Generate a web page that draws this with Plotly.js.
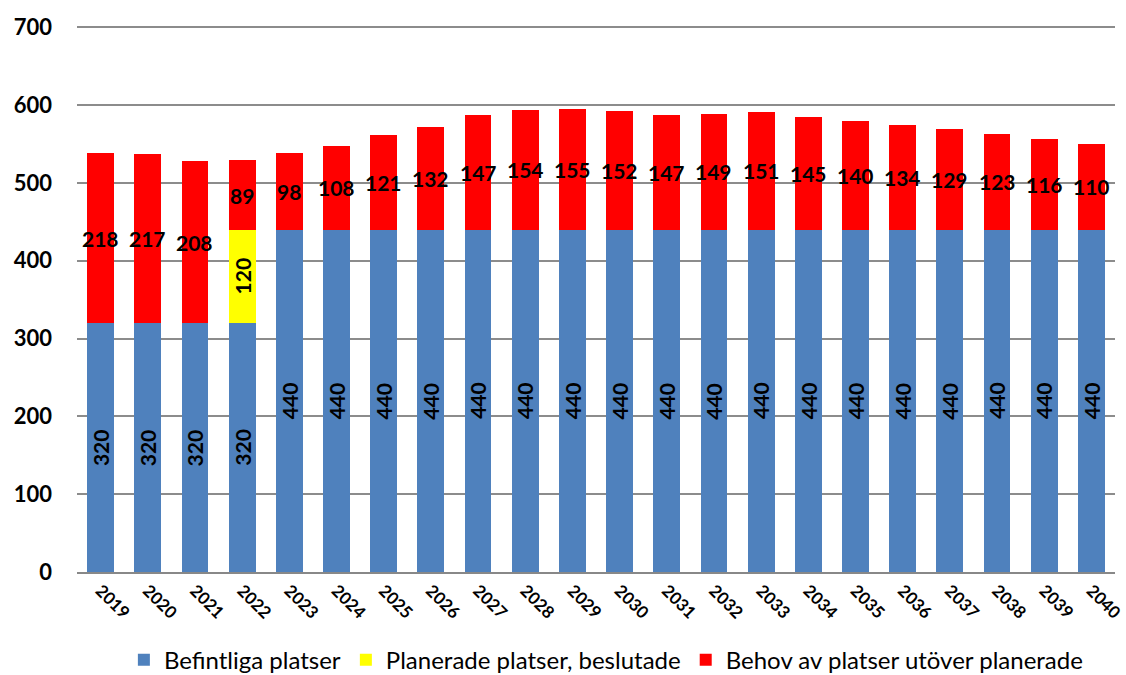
<!DOCTYPE html>
<html><head><meta charset="utf-8">
<script src="https://cdn.plot.ly/plotly-3.0.1.min.js"></script>
<style>html,body{margin:0;padding:0;background:#fff}#chart{width:1126px;height:675px}</style>
</head><body><div id="chart"></div>
<script>
const years = ['2019','2020','2021','2022','2023','2024','2025','2026','2027','2028','2029','2030','2031','2032','2033','2034','2035','2036','2037','2038','2039','2040'];
const befintliga = [320,320,320,320,440,440,440,440,440,440,440,440,440,440,440,440,440,440,440,440,440,440];
const planerade = [0,0,0,120,0,0,0,0,0,0,0,0,0,0,0,0,0,0,0,0,0,0];
const behov = [218,217,208,89,98,108,121,132,147,154,155,152,147,149,151,145,140,134,129,123,116,110];
const seriesNames = ['Befintliga platser','Planerade platser, beslutade','Behov av platser utöver planerade'];
const yTicks = [0,100,200,300,400,500,600,700];

const FONT = 'Lato, "Open Sans", sans-serif';
const LBL = {family:FONT, size:21, color:'#000', weight:'bold'};
const traces = [
  {type:'bar', x:years, y:befintliga, name:seriesNames[0], marker:{color:'#4F81BD'}, hoverinfo:'y'},
  {type:'bar', x:years, y:planerade, name:seriesNames[1], marker:{color:'#FFFF00'}, hoverinfo:'y'},
  {type:'bar', x:years, y:behov, name:seriesNames[2], marker:{color:'#FF0000'}, hoverinfo:'y'}
];

const annotations = [];
years.forEach((yr,i)=>{
  annotations.push({x:i, y:befintliga[i]/2, text:String(befintliga[i]), textangle:-90, showarrow:false, font:LBL});
  if (planerade[i] > 0) {
    annotations.push({x:i, y:befintliga[i]+planerade[i]/2, text:String(planerade[i]), textangle:-90, showarrow:false, font:LBL});
  }
  annotations.push({x:i, y:befintliga[i]+planerade[i]+behov[i]/2, text:String(behov[i]), showarrow:false, font:LBL});
});

const layout = {
  width:1126, height:675,
  margin:{l:77, r:11, t:25, b:103, autoexpand:false},
  barmode:'stack', bargap:0.43,
  paper_bgcolor:'#fff', plot_bgcolor:'#fff',
  font:{family:FONT, color:'#000'},
  showlegend:true,
  legend:{orientation:'h', x:0.51, xanchor:'center', y:-0.161, yanchor:'middle', font:{family:FONT, size:24, color:'#000'}, traceorder:'normal', itemwidth:30},
  xaxis:{type:'category', range:[-0.5, years.length-0.5], tickangle:45, tickfont:{family:FONT, size:17, color:'#000', weight:'bold'},
    showline:true, linecolor:'#888', linewidth:2, ticks:'', showgrid:false, fixedrange:true},
  yaxis:{range:[0,703], tickvals:yTicks, ticktext:yTicks.map(String), tickfont:{family:FONT, size:22, color:'#000', weight:'bold'},
    showgrid:true, gridcolor:'#8c8c8c', gridwidth:2, zeroline:false, showline:false, ticks:'', ticklabelstandoff:24, fixedrange:true},
  annotations:annotations
};
Plotly.newPlot('chart', traces, layout, {displayModeBar:false, staticPlot:true});
</script></body></html>
